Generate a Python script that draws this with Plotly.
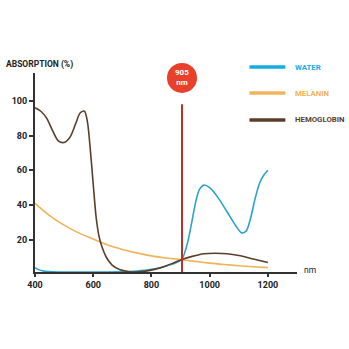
import plotly.graph_objects as go

series_names = ["WATER", "MELANIN", "HEMOGLOBIN"]
series_colors = ["#2aa3cc", "#efb457", "#5b3e2a"]
legend_colors = ["#16ace2", "#f2b35a", "#5b3e2a"]

water_nm = [400, 410, 430, 460, 500, 600, 700, 750, 800, 850, 880, 905, 915, 925, 935, 945, 955, 965, 980, 1000, 1030, 1060, 1090, 1110, 1125, 1140, 1155, 1170, 1185, 1200]
water_abs = [4, 3, 2, 1.6, 1.5, 1.5, 1.6, 2, 3, 5, 6.5, 9, 13, 19, 27, 36, 44, 49, 51.5, 50, 44, 36, 28, 24, 25, 32, 43, 52, 57, 60]

melanin_nm = [400, 450, 500, 550, 600, 650, 700, 750, 800, 850, 900, 950, 1000, 1050, 1100, 1150, 1200]
melanin_abs = [41, 34, 28.5, 24, 20.5, 17, 14.5, 12.5, 10.8, 9.6, 8.6, 7.6, 6.6, 5.8, 5.1, 4.5, 4]

hemo_nm = [400, 420, 440, 460, 480, 500, 520, 540, 555, 570, 580, 590, 600, 610, 620, 630, 645, 665, 690, 720, 750, 780, 810, 850, 880, 905, 940, 980, 1020, 1060, 1100, 1150, 1200]
hemo_abs = [96, 94, 90, 83, 77, 76, 79, 87, 93, 94, 88, 72, 52, 33, 22, 16, 10, 5.5, 3, 1.8, 1.5, 2, 3, 5, 7, 8.7, 10.5, 12, 12.3, 12, 11, 9, 7]

marker_nm = 905
marker_top = 98
marker_label = "905<br>nm"

x_ticks = [400, 600, 800, 1000, 1200]
y_ticks = [20, 40, 60, 80, 100]
y_title = "ABSORPTION (%)"
x_unit = "nm"

FONT = "Roboto"
X_RANGE = [400, 1300]

fig = go.Figure()
for nm, ab, col in [(water_nm, water_abs, series_colors[0]),
                    (melanin_nm, melanin_abs, series_colors[1]),
                    (hemo_nm, hemo_abs, series_colors[2])]:
    fig.add_trace(go.Scatter(x=nm, y=ab, mode="lines",
                             line=dict(color=col, width=1.6, shape="spline", smoothing=0.8),
                             hoverinfo="skip", showlegend=False))

# 905 nm marker line
fig.add_trace(go.Scatter(x=[marker_nm, marker_nm], y=[0, marker_top], mode="lines",
                         line=dict(color="#b8322a", width=2), showlegend=False, hoverinfo="skip"))

# circle badge (paper coords so it is not clipped)
bx = (marker_nm - X_RANGE[0]) / (X_RANGE[1] - X_RANGE[0])
by = 0.975
fig.add_shape(type="circle", xref="paper", yref="paper", xsizemode="pixel", ysizemode="pixel",
              xanchor=bx, yanchor=by, x0=-15, x1=15, y0=-15, y1=15,
              fillcolor="#e8402a", line=dict(width=0))
fig.add_annotation(x=bx, y=by, xref="paper", yref="paper", text=marker_label, showarrow=False,
                   xanchor="center", yanchor="middle",
                   font=dict(family=FONT, size=8, color="white", weight="bold"), align="center")

# legend
leg_y = [1.03, 0.899, 0.764]
for name, col, yy in zip(series_names, legend_colors, leg_y):
    fig.add_shape(type="line", xref="paper", yref="paper", x0=0.8185, x1=0.9556, y0=yy, y1=yy,
                  line=dict(color=col, width=3.5))
    fig.add_annotation(xref="paper", yref="paper", x=0.985, y=yy, text=name, showarrow=False,
                       xanchor="left", yanchor="middle",
                       font=dict(family=FONT, size=7.8, color=col, weight="bold"))

fig.add_annotation(xref="paper", yref="paper", x=-0.12, y=1.045, text=y_title, showarrow=False,
                   xanchor="left", yanchor="middle",
                   font=dict(family=FONT, size=8.5, color="#222", weight="bold"))
fig.add_annotation(xref="paper", yref="paper", x=1.02, y=0.01, text=x_unit, showarrow=False,
                   xanchor="left", yanchor="middle",
                   font=dict(family=FONT, size=8.5, color="#222"))

fig.update_xaxes(range=X_RANGE, tickvals=x_ticks, showgrid=False, zeroline=False,
                 showline=True, linecolor="#333", linewidth=2, ticks="outside", ticklen=3,
                 tickcolor="#333", tickwidth=1.5,
                 tickfont=dict(family=FONT, size=9, color="#222", weight="bold"))
fig.update_yaxes(range=[1.5, 116], tickvals=y_ticks, showgrid=False, zeroline=False,
                 showline=True, linecolor="#333", linewidth=2, ticks="outside", ticklen=4,
                 tickcolor="#333", tickwidth=1.5,
                 tickfont=dict(family=FONT, size=9, color="#222", weight="bold"))

fig.update_layout(width=349, height=349, margin=dict(l=27, r=52, t=73, b=77),
                  paper_bgcolor="white", plot_bgcolor="white", showlegend=False)

fig.write_html("out.html")
